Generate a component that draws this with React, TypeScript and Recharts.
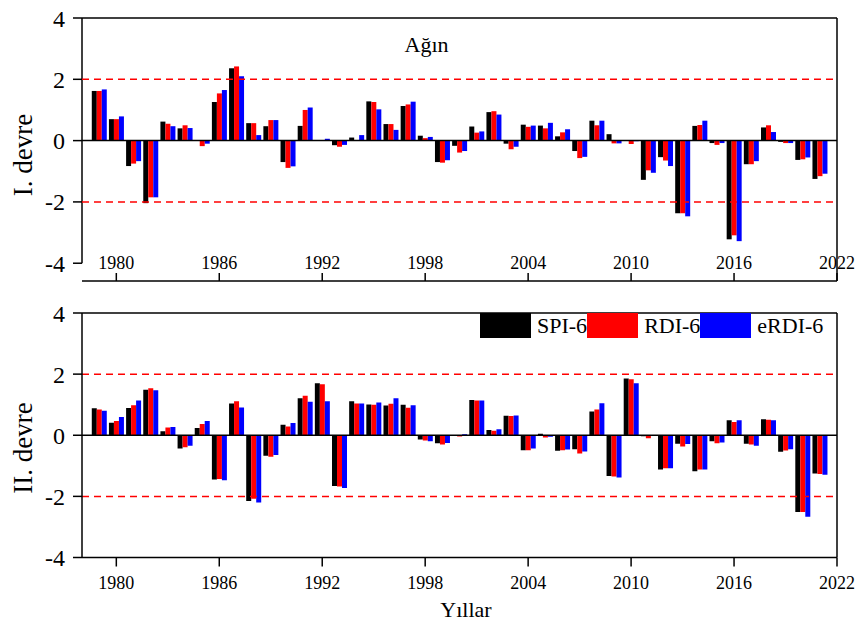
import React from 'react'
import { Bar, BarChart, Legend, ReferenceLine, XAxis, YAxis } from 'recharts'

const years = [
  1979, 1980, 1981, 1982, 1983, 1984, 1985, 1986, 1987, 1988,
  1989, 1990, 1991, 1992, 1993, 1994, 1995, 1996, 1997, 1998,
  1999, 2000, 2001, 2002, 2003, 2004, 2005, 2006, 2007, 2008,
  2009, 2010, 2011, 2012, 2013, 2014, 2015, 2016, 2017, 2018,
  2019, 2020, 2021
]

// I. devre
const spi1 = [
  1.62, 0.7, -0.83, -2.04, 0.62, 0.4, 0.02, 1.26, 2.36, 0.57,
  0.47, -0.7, 0.48, 0.02, -0.15, 0.1, 1.28, 0.54, 1.13, 0.16,
  -0.7, -0.17, 0.46, 0.93, -0.1, 0.52, 0.49, 0.14, -0.34, 0.65,
  0.21, 0.01, -1.28, -0.54, -2.37, 0.48, -0.08, -3.22, -0.77, 0.43,
  -0.04, -0.63, -1.25
]
const rdi1 = [
  1.62, 0.7, -0.75, -1.85, 0.55, 0.5, -0.18, 1.54, 2.42, 0.57,
  0.67, -0.89, 1.0, 0.02, -0.2, 0.02, 1.26, 0.54, 1.18, 0.08,
  -0.72, -0.39, 0.26, 0.96, -0.28, 0.45, 0.4, 0.27, -0.57, 0.5,
  -0.09, -0.11, -0.97, -0.65, -2.37, 0.51, -0.14, -3.09, -0.77, 0.5,
  -0.08, -0.61, -1.16
]
const erdi1 = [
  1.67, 0.79, -0.67, -1.85, 0.47, 0.41, -0.1, 1.65, 2.1, 0.18,
  0.67, -0.84, 1.08, 0.06, -0.14, 0.18, 1.02, 0.35, 1.27, 0.12,
  -0.64, -0.34, 0.3, 0.85, -0.2, 0.49, 0.58, 0.37, -0.53, 0.65,
  -0.09, -0.02, -1.05, -0.83, -2.47, 0.65, -0.08, -3.28, -0.67, 0.28,
  -0.08, -0.55, -1.08
]

// II. devre
const spi2 = [
  0.88, 0.41, 0.89, 1.49, 0.13, -0.43, 0.24, -1.45, 1.04, -2.15,
  -0.67, 0.34, 1.21, 1.7, -1.66, 1.11, 1.01, 0.97, 1.0, -0.14,
  -0.26, 0.01, 1.15, 0.17, 0.64, -0.49, 0.05, -0.51, -0.46, 0.78,
  -1.33, 1.86, -0.03, -1.12, -0.28, -1.18, -0.2, 0.49, -0.28, 0.52,
  -0.54, -2.51, -1.25
]
const rdi2 = [
  0.84, 0.47, 0.98, 1.54, 0.25, -0.39, 0.37, -1.43, 1.11, -2.08,
  -0.7, 0.29, 1.29, 1.67, -1.68, 1.04, 1.0, 1.03, 0.9, -0.17,
  -0.3, -0.04, 1.14, 0.15, 0.63, -0.49, -0.07, -0.49, -0.6, 0.84,
  -1.35, 1.83, -0.1, -1.08, -0.37, -1.12, -0.26, 0.43, -0.3, 0.51,
  -0.5, -2.51, -1.27
]
const erdi2 = [
  0.8, 0.6, 1.14, 1.47, 0.27, -0.34, 0.47, -1.47, 0.91, -2.2,
  -0.65, 0.4, 1.1, 1.11, -1.73, 1.04, 1.07, 1.21, 0.98, -0.2,
  -0.25, 0.03, 1.14, 0.2, 0.65, -0.43, -0.05, -0.47, -0.53, 1.05,
  -1.38, 1.7, -0.01, -1.08, -0.29, -1.12, -0.24, 0.49, -0.34, 0.49,
  -0.46, -2.67, -1.29
]

const yearTicks = [1980, 1986, 1992, 1998, 2004, 2010, 2016, 2022]
const valueTicks = [-4, -2, 0, 2, 4]
const sideTicks = [4, 3.2, 2.4, 1.6, 0.8, 0, -0.8, -1.6, -2.4, -3.2, -4]
const topTicks = [0, 1, 2, 3, 4, 5, 6, 7, 8, 9, 10]
const thresholds = [2, -2]
const seriesKeys = ['spi', 'rdi', 'erdi']
const seriesNames = ['SPI-6', 'RDI-6', 'eRDI-6']
const seriesColors = ['#000000', '#ff0000', '#0000ff']

const FONT = '"Liberation Serif", "Times New Roman", serif'

const firstRows = years.map((year, i) => ({ year, spi: spi1[i], rdi: rdi1[i], erdi: erdi1[i] }))
const secondRows = years.map((year, i) => ({ year, spi: spi2[i], rdi: rdi2[i], erdi: erdi2[i] }))

const axisStroke = { stroke: '#000', strokeWidth: 1.5 }
const yearTickStyle = { fill: '#000', fontSize: 18, fontFamily: FONT }
const valueTickStyle = { fill: '#000', fontSize: 24, fontFamily: FONT }

function LegendRow() {
  return (
    <div style={{ display: 'flex', alignItems: 'center', fontFamily: FONT, fontSize: 22, lineHeight: '25px', color: '#000', whiteSpace: 'nowrap' }}>
      {seriesNames.map((name, i) => (
        <React.Fragment key={name}>
          <span style={{ display: 'inline-block', width: 51, height: 25, background: seriesColors[i] }} />
          <span style={{ paddingLeft: 6 }}>{name}</span>
        </React.Fragment>
      ))}
    </div>
  )
}

function bars() {
  return seriesKeys.map((key, i) => (
    <Bar
      key={key}
      dataKey={key}
      name={seriesNames[i]}
      fill={seriesColors[i]}
      isAnimationActive={false}
    />
  ))
}

function dashed() {
  return thresholds.map(t => (
    <ReferenceLine key={t} y={t} stroke="#ff0000" strokeWidth={1.5} strokeDasharray="7 5" />
  ))
}

export default function App() {
  return (
    <div style={{ position: 'absolute', left: 0, top: 0, width: 855, height: 625, background: '#fff', fontFamily: FONT }}>
      <div style={{ position: 'absolute', left: 0, top: 0 }}>
        <BarChart
          width={855}
          height={290}
          data={firstRows}
          margin={{ top: 18, right: 18, bottom: 9, left: 0 }}
          barGap={0}
          barCategoryGap={1.2}
        >
          <XAxis
            dataKey="year"
            type="number"
            domain={[1978, 2022]}
            allowDataOverflow
            ticks={yearTicks}
            interval={0}
            mirror
            tickSize={8}
            tickMargin={4}
            tick={yearTickStyle}
            axisLine={axisStroke}
            tickLine={axisStroke}
          />
          <XAxis
            xAxisId="top"
            orientation="top"
            type="number"
            domain={[0, 10]}
            allowDataOverflow
            ticks={topTicks}
            interval={0}
            mirror
            tickSize={5}
            tick={false}
            axisLine={axisStroke}
            tickLine={axisStroke}
          />
          <YAxis
            type="number"
            domain={[-4.58, 4]}
            allowDataOverflow
            ticks={valueTicks}
            interval={0}
            width={82}
            tickSize={9}
            tickMargin={8}
            tick={valueTickStyle}
            axisLine={false}
            tickLine={axisStroke}
          />
          <YAxis
            yAxisId="right"
            orientation="right"
            type="number"
            domain={[-4.58, 4]}
            allowDataOverflow
            ticks={sideTicks}
            interval={0}
            mirror
            tickSize={5}
            tick={false}
            axisLine={axisStroke}
            tickLine={axisStroke}
          />
          <ReferenceLine
            segment={[{ x: 1978, y: -4 }, { x: 1978, y: 4 }]}
            stroke="#000"
            strokeWidth={1.5}
            ifOverflow="visible"
          />
          {dashed()}
          {bars()}
          <ReferenceLine y={0} stroke="#000" strokeWidth={1.5} />
        </BarChart>
      </div>

      <div style={{ position: 'absolute', left: 0, top: 295 }}>
        <BarChart
          width={855}
          height={330}
          data={secondRows}
          margin={{ top: 18, right: 18, bottom: 0, left: 0 }}
          barGap={0}
          barCategoryGap={1.2}
        >
          <XAxis
            dataKey="year"
            type="number"
            domain={[1978, 2022]}
            allowDataOverflow
            ticks={yearTicks}
            interval={0}
            height={67.5}
            tickSize={9}
            tickMargin={10}
            tick={yearTickStyle}
            axisLine={axisStroke}
            tickLine={axisStroke}
          />
          <XAxis
            xAxisId="top"
            orientation="top"
            type="number"
            domain={[0, 10]}
            allowDataOverflow
            ticks={topTicks}
            interval={0}
            mirror
            tickSize={5}
            tick={false}
            axisLine={axisStroke}
            tickLine={axisStroke}
          />
          <YAxis
            type="number"
            domain={[-4, 4]}
            allowDataOverflow
            ticks={valueTicks}
            interval={0}
            width={82}
            tickSize={9}
            tickMargin={8}
            tick={valueTickStyle}
            axisLine={axisStroke}
            tickLine={axisStroke}
          />
          <YAxis
            yAxisId="right"
            orientation="right"
            type="number"
            domain={[-4, 4]}
            allowDataOverflow
            ticks={sideTicks}
            interval={0}
            mirror
            tickSize={5}
            tick={false}
            axisLine={axisStroke}
            tickLine={axisStroke}
          />
          <Legend
            layout="horizontal"
            verticalAlign="middle"
            align="center"
            wrapperStyle={{ left: 480, top: 18, width: 360, height: 25 }}
            content={() => <LegendRow />}
          />
          {dashed()}
          {bars()}
          <ReferenceLine y={0} stroke="#000" strokeWidth={1.5} />
        </BarChart>
      </div>

      <svg
        width={855}
        height={625}
        style={{ position: 'absolute', left: 0, top: 0, pointerEvents: 'none' }}
      >
        <text x={426.5} y={51.5} textAnchor="middle" fontFamily={FONT} fontSize={22} fill="#000">Ağın</text>
        <text x={32} y={155} transform="rotate(-90 32 155)" textAnchor="middle" fontFamily={FONT} fontSize={27} fill="#000">I. devre</text>
        <text x={32} y={448} transform="rotate(-90 32 448)" textAnchor="middle" fontFamily={FONT} fontSize={27} fill="#000">II. devre</text>
        <text x={466} y={617} textAnchor="middle" fontFamily={FONT} fontSize={22} fill="#000">Yıllar</text>
      </svg>
    </div>
  )
}
